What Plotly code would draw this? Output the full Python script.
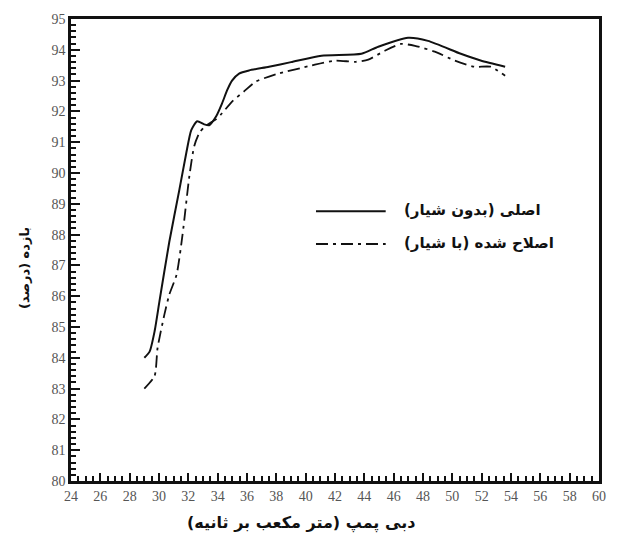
import plotly.graph_objects as go

# Data
x_orig = [29.0, 29.36, 29.7, 30.03, 30.7, 31.39, 31.86, 32.2, 32.6, 33.08, 33.42, 33.9, 34.3, 34.64,
          34.98, 35.46, 36.14, 37.5, 39.0, 41.08, 43.8, 44.95, 46.98, 48.34, 50.58, 51.93, 53.6]
y_orig = [84.0, 84.2, 84.86, 85.83, 87.76, 89.46, 90.65, 91.39, 91.68, 91.58, 91.55, 91.84, 92.26, 92.68,
          93.0, 93.23, 93.33, 93.45, 93.6, 93.81, 93.87, 94.1, 94.39, 94.29, 93.87, 93.65, 93.45]

x_mod = [29.0, 29.7, 29.9, 30.37, 30.7, 31.2, 31.6, 32.07, 32.4, 32.75, 33.1, 33.4, 33.9, 34.3,
         34.98, 35.8, 36.6, 37.5, 38.17, 40.4, 42.03, 43.4, 44.27, 45.4, 46.5, 47.45, 48.8, 50.17, 51.5, 52.6, 53.6]
y_mod = [83.0, 83.41, 84.31, 85.41, 86.05, 86.7, 87.98, 89.9, 90.87, 91.3, 91.5, 91.6, 91.75, 91.94,
         92.32, 92.65, 92.97, 93.13, 93.23, 93.49, 93.65, 93.61, 93.68, 93.97, 94.19, 94.13, 93.94, 93.65, 93.45, 93.45, 93.16]

name_orig = "اصلی (بدون شیار)"
name_mod = "اصلاح شده (با شیار)"
x_title = "دبی پمپ (متر مکعب بر ثانیه)"
y_title = "بازده (درصد)"

DASHDOT = "12px,5px,3px,5px"

fig = go.Figure()
fig.add_trace(go.Scatter(x=x_orig, y=y_orig, mode="lines", name=name_orig,
                         line=dict(color="#111111", width=2, shape="spline", smoothing=0.6)))
fig.add_trace(go.Scatter(x=x_mod, y=y_mod, mode="lines", name=name_mod,
                         line=dict(color="#111111", width=1.8, dash=DASHDOT, shape="spline", smoothing=0.6)))

tickfont = dict(family="Liberation Serif, Times New Roman, serif", size=14, color="#555555")
persian = dict(family="DejaVu Sans, sans-serif", size=15, color="#111111", weight="bold")

fig.update_xaxes(range=[24, 60], dtick=2, tick0=24, ticks="inside", ticklen=8, tickwidth=2,
                 tickcolor="#111", showline=True, linecolor="#111", linewidth=2.5, mirror=True,
                 showgrid=False, zeroline=False, tickfont=tickfont,
                 minor=dict(dtick=0.5, ticks="inside", ticklen=5, tickwidth=1.5, tickcolor="#111", showgrid=False))
fig.update_yaxes(range=[80, 95], dtick=1, tick0=80, ticks="inside", ticklen=9, tickwidth=2,
                 tickcolor="#111", showline=True, linecolor="#111", linewidth=2.5, mirror=True,
                 showgrid=False, zeroline=False, tickfont=tickfont,
                 minor=dict(dtick=0.2, ticks="inside", ticklen=5, tickwidth=1.5, tickcolor="#111", showgrid=False))

# Axis titles placed as in the reference
fig.add_annotation(xref="paper", yref="paper", x=0.436, y=-0.09, text=x_title, showarrow=False,
                   xanchor="center", yanchor="middle", font=dict(persian, size=16))
fig.add_annotation(xref="paper", yref="paper", x=-0.088, y=0.46, text=y_title, showarrow=False,
                   xanchor="center", yanchor="middle", textangle=-90, font=dict(persian, size=13))

# Legend drawn manually (long sample lines as in the reference)
fig.add_shape(type="line", xref="paper", yref="paper", x0=0.464, x1=0.596, y0=0.584, y1=0.584,
              line=dict(color="#111", width=2))
fig.add_shape(type="line", xref="paper", yref="paper", x0=0.464, x1=0.596, y0=0.513, y1=0.513,
              line=dict(color="#111", width=1.8, dash=DASHDOT))
fig.add_annotation(xref="paper", yref="paper", x=0.626, y=0.586, text=name_orig, showarrow=False,
                   xanchor="left", yanchor="middle", font=persian)
fig.add_annotation(xref="paper", yref="paper", x=0.626, y=0.515, text=name_mod, showarrow=False,
                   xanchor="left", yanchor="middle", font=persian)

fig.update_layout(width=618, height=539, margin=dict(l=71, r=15, t=15, b=58),
                  paper_bgcolor="white", plot_bgcolor="white", showlegend=False)

fig.write_html("out.html")
